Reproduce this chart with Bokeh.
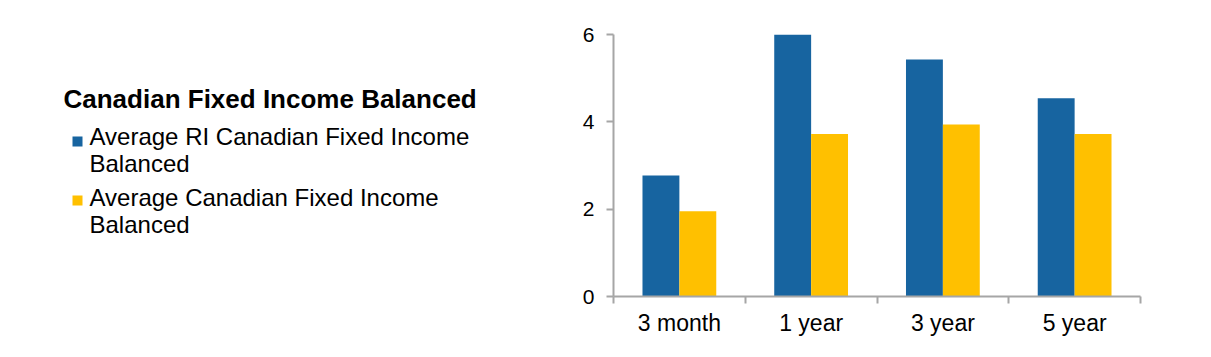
from bokeh.plotting import figure
from bokeh.layouts import row
from bokeh.models import Range1d, FixedTicker, ColumnDataSource
from bokeh.transform import dodge
from bokeh.core.properties import value
from bokeh.embed import file_html
from bokeh.resources import INLINE

# ---- data ----
categories = ["3 month", "1 year", "3 year", "5 year"]
series_names = ["Average RI Canadian Fixed Income Balanced",
                "Average Canadian Fixed Income Balanced"]
ri_values = [2.77, 6.02, 5.43, 4.54]
avg_values = [1.95, 3.72, 3.94, 3.72]
y_ticks = [0, 2, 4, 6]
legend_title = "Canadian Fixed Income Balanced"

# ---- styles ----
BLUE = "#1764A0"
YELLOW = "#FFC000"
AXIS_GREY = "#A6A6A6"
FONT = "Liberation Sans"
colors = [BLUE, YELLOW]
TOP, BOTTOM = 34, 61
H = 357

# ---- chart ----
centers = [i + 0.5 for i in range(len(categories))]
bounds = list(range(len(categories) + 1))
src = ColumnDataSource(dict(x=centers, ri=ri_values, avg=avg_values))

p = figure(width=651, height=H, x_range=Range1d(0, len(categories)),
           y_range=Range1d(0, max(y_ticks)),
           output_backend="svg", toolbar_location=None,
           min_border_left=53, min_border_right=71,
           min_border_top=TOP, min_border_bottom=BOTTOM)
p.outline_line_color = None
p.xgrid.visible = False
p.ygrid.visible = False
p.background_fill_color = "white"
p.border_fill_color = "white"

bw = 0.28
p.vbar(x=dodge("x", -bw / 2), top="ri", width=bw, source=src,
       fill_color=BLUE, line_color=None)
p.vbar(x=dodge("x", bw / 2), top="avg", width=bw, source=src,
       fill_color=YELLOW, line_color=None)

# y axis
yax = p.yaxis[0]
yax.ticker = FixedTicker(ticks=y_ticks)
yax.axis_line_color = AXIS_GREY
yax.axis_line_width = 2
yax.major_tick_line_color = AXIS_GREY
yax.major_tick_line_width = 2
yax.major_tick_out = 7
yax.major_tick_in = 0
yax.minor_tick_line_color = None
yax.major_label_text_font = FONT
yax.major_label_text_font_size = "21px"
yax.major_label_text_color = "black"
yax.major_label_standoff = 12

# x axis: labels at centers, tick marks at category boundaries
xax = p.xaxis[0]
xax.ticker = FixedTicker(ticks=centers, minor_ticks=bounds)
xax.major_label_overrides = {c: lab for c, lab in zip(centers, categories)}
xax.axis_line_color = AXIS_GREY
xax.axis_line_width = 2
xax.major_tick_line_color = None
xax.major_tick_out = 7
xax.major_tick_in = 0
xax.minor_tick_line_color = AXIS_GREY
xax.minor_tick_line_width = 2
xax.minor_tick_out = 7
xax.minor_tick_in = 0
xax.major_label_text_font = FONT
xax.major_label_text_font_size = "23px"
xax.major_label_text_color = "black"
xax.major_label_standoff = 6

# ---- legend panel (data coords == page pixels) ----
leg = figure(width=560, height=H, x_range=Range1d(0, 560),
             y_range=Range1d(H - BOTTOM, TOP),
             output_backend="svg", toolbar_location=None,
             min_border_left=0, min_border_right=0,
             min_border_top=TOP, min_border_bottom=BOTTOM)
leg.axis.visible = False
leg.xgrid.visible = False
leg.ygrid.visible = False
leg.outline_line_color = None
leg.border_fill_color = "white"

leg.text(x=[63], y=[98], text=[legend_title], text_font=value(FONT),
         text_font_size="26px", text_font_style="bold", text_color="black",
         text_baseline="alphabetic", text_align="left")

square_y = [141, 200]
text_base = [136, 197]
line_gap = 27
for i, name in enumerate(series_names):
    first, last = name.rsplit(" ", 1)
    b = text_base[i]
    leg.rect(x=[77], y=[square_y[i]], width=10, height=10,
             fill_color=colors[i], line_color=None)
    leg.text(x=[89, 89], y=[b, b + line_gap], text=[first, last],
             text_font=value(FONT), text_font_size="24px", text_color="black",
             text_baseline="alphabetic", text_align="left")

layout = row(leg, p, spacing=0)

open("out.html", "w").write(file_html(layout, INLINE))
